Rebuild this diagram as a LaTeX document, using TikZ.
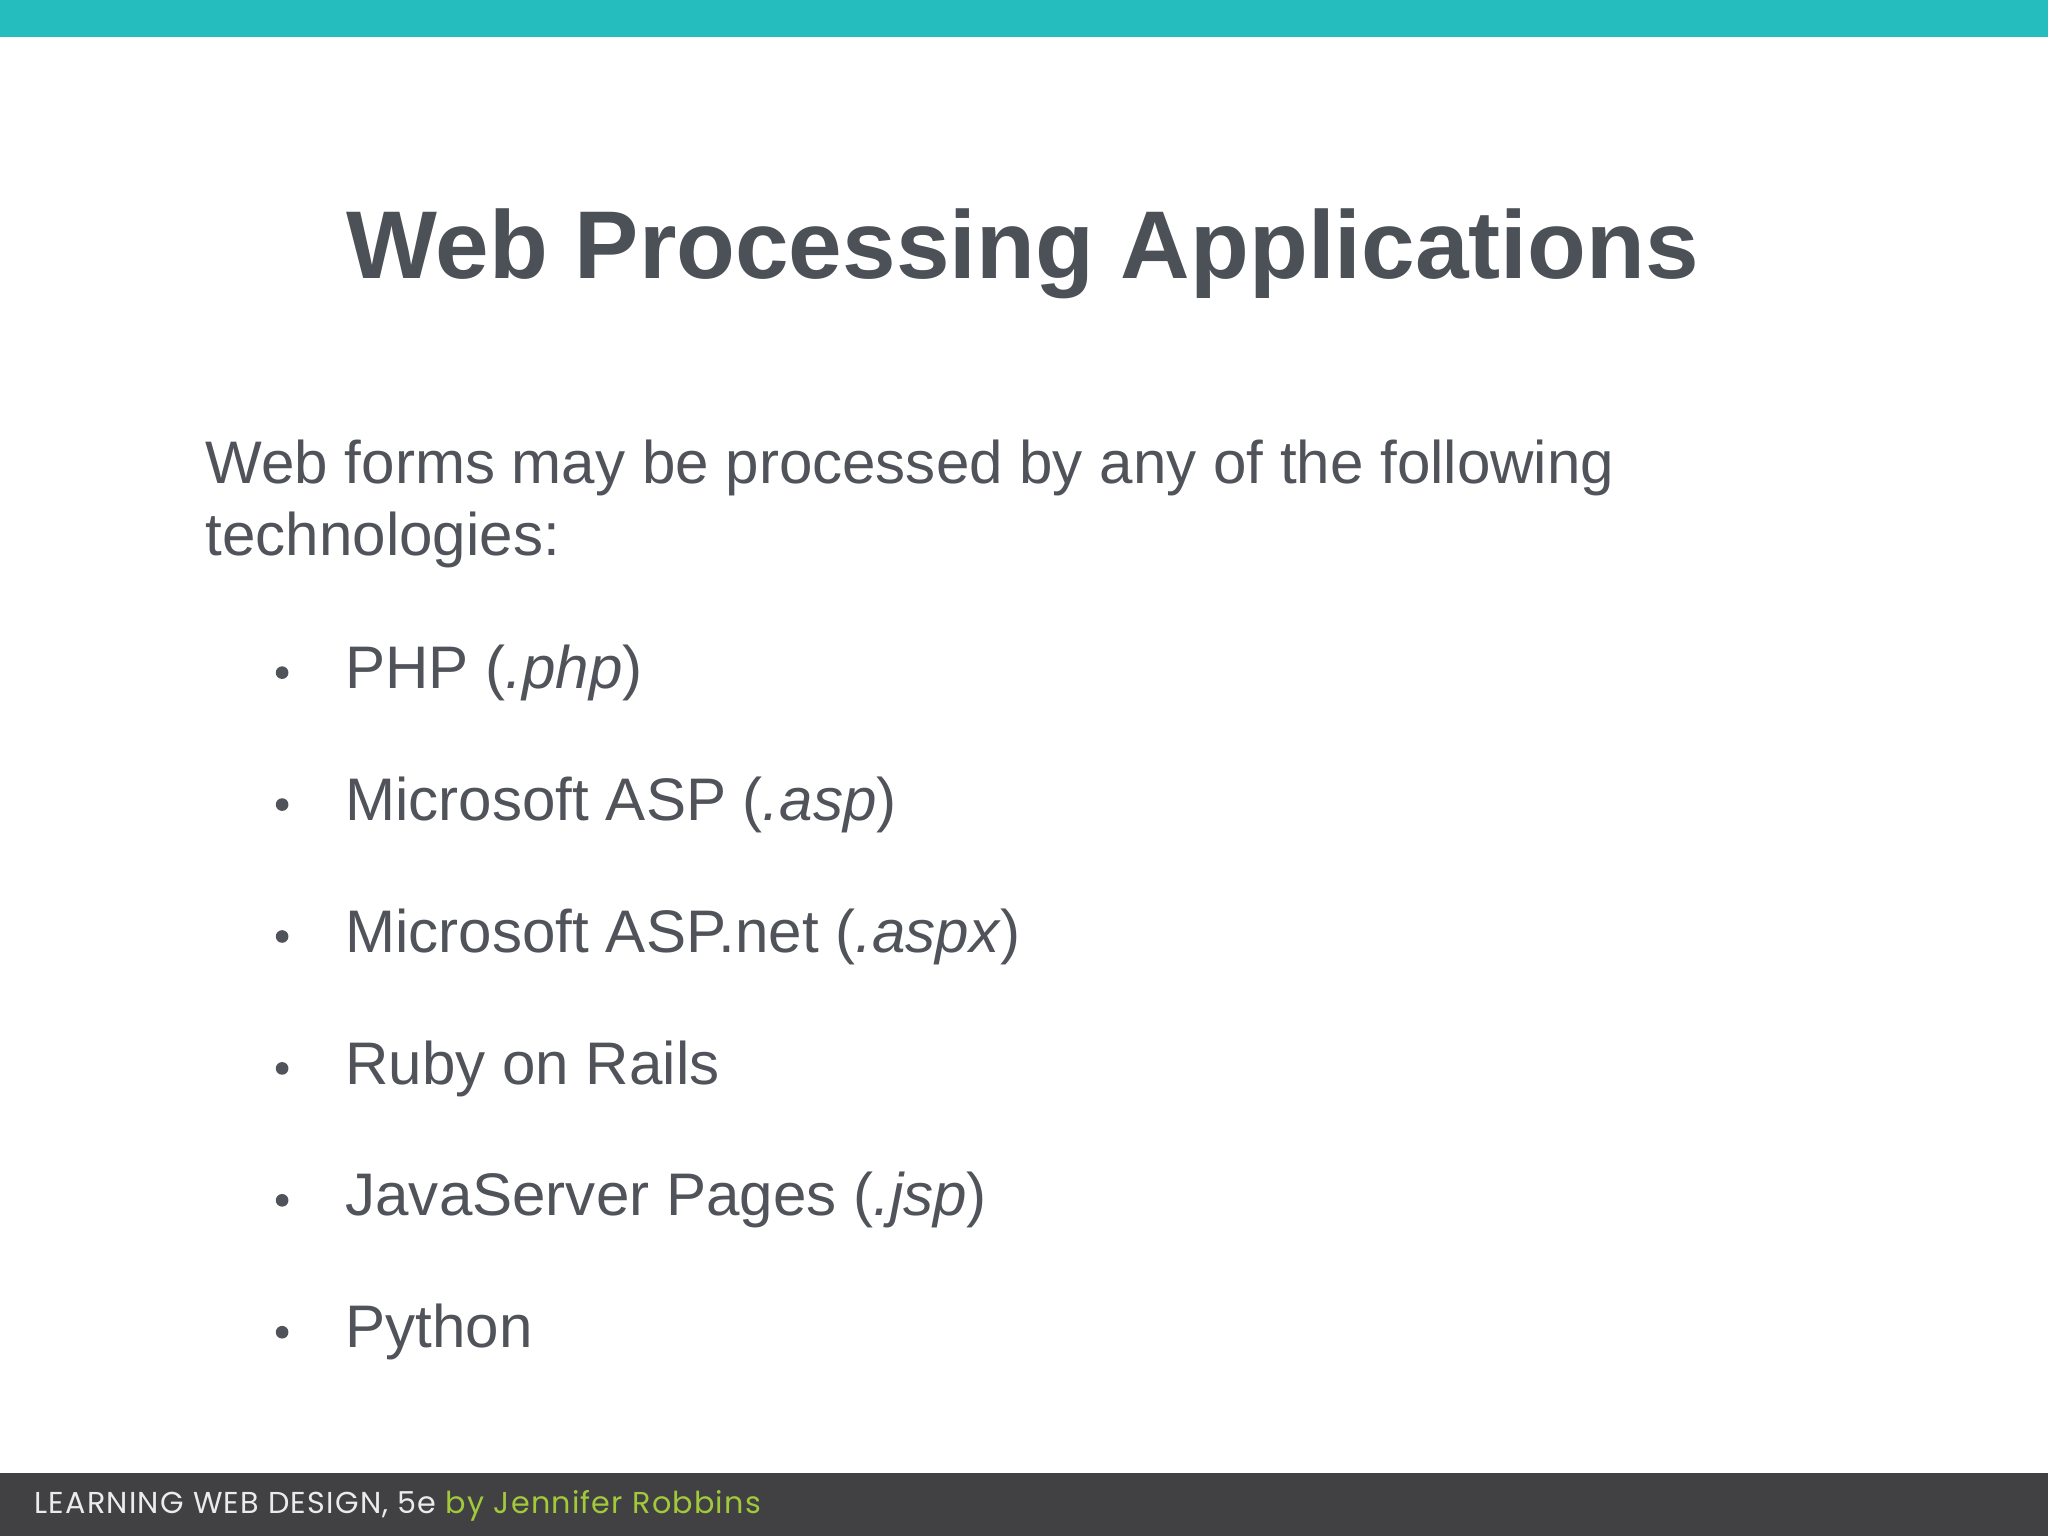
\documentclass[tikz,border=0pt]{standalone}
\usepackage{fontspec}
\setmainfont{Liberation Sans}
\newfontfamily\footfont[LetterSpace=4]{Poppins}
\definecolor{teal}{HTML}{26BDBF}
\definecolor{darkbar}{HTML}{414143}
\definecolor{txt}{HTML}{50545A}
\definecolor{ttl}{HTML}{4C5158}
\definecolor{lime}{HTML}{A2C93A}
\tikzset{
  body/.style={anchor=base west, text=txt, font=\fontsize{17.1pt}{21pt}\selectfont, inner sep=0pt},
  bul/.style={circle, fill=txt, inner sep=0pt, minimum size=3.6pt}
}
\begin{document}
\begin{tikzpicture}[x=0.013061cm,y=-0.013061cm]
\useasboundingbox (0,0) rectangle (1568,1176);
\fill[white] (0,0) rectangle (1568,1176);
\fill[teal] (0,0) rectangle (1568,28);
\fill[darkbar] (0,1128) rectangle (1568,1176);
\node[anchor=base, text=ttl, font=\fontsize{27.4pt}{32pt}\selectfont\bfseries, inner sep=0pt] (title) at (783,213) {Web Processing Applications};
\node[body] (l1) at (157,370) {Web forms may be processed by any of the following};
\node[body] (l2) at (157,425) {technologies:};
\foreach \t [count=\i] in {PHP (\textit{.php}),Microsoft ASP (\textit{.asp}),Microsoft ASP.net (\textit{.aspx}),Ruby on Rails,JavaServer Pages (\textit{.jsp}),Python}{
  \node[body] (it\i) at (264,{527+101*(\i-1)}) {\t};
  \node[bul] (b\i) at (216,{515+101*(\i-1)}) {};
}
\node[anchor=base west, inner sep=0pt, font=\footfont\fontsize{8.6pt}{10pt}\selectfont] (foot) at (26,1159) {\textcolor{white!92!black}{LEARNING WEB DESIGN, 5e} \textcolor{lime}{by Jennifer Robbins}};
\end{tikzpicture}
\end{document}
